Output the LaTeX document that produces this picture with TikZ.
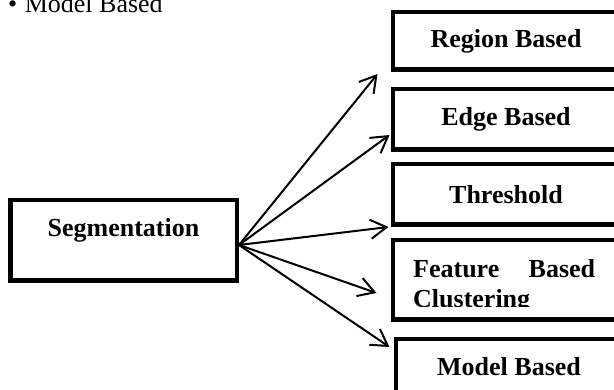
\documentclass[tikz,border=0pt]{standalone}
\usepackage{fontspec}
\setmainfont{Liberation Serif}
\usetikzlibrary{arrows.meta}

\begin{document}
\begin{tikzpicture}[
            x=1pt, y=-1pt,
            every node/.style={inner sep=0pt},
            box/.style={draw, line width=4.5pt, minimum width=226.5pt,
                font=\fontsize{26}{30}\selectfont\bfseries},
            arr/.style={line width=2pt, -{Straight Barb[length=16pt, width=19pt]}}
        ]
        \useasboundingbox (0,0) rectangle (614,390);
        \clip (0,0) rectangle (614,390);
        \node[anchor=base west, font=\fontsize{26}{30}\selectfont] (note) at (8,13) {\textbullet\hspace{7.5pt}Model Based};
        \node[box, minimum height=80.5pt] (seg) at (123.5,240.5) {\raisebox{3.5pt}[0pt][0pt]{Segmentation}};
        \node[box, minimum height=57.5pt] (reg) at (506,41) {Region Based};
        \node[box, minimum height=60.5pt] (edge) at (506,119.5) {Edge Based};
        \node[box, minimum height=60.5pt] (thr) at (506,194.5) {Threshold};
        \node[box, minimum height=79.5pt] (feat) at (506,280) {};
        \node[box, minimum height=54.5pt] (mod) at (509,366.5) {Model Based};
        % label of the fourth box is cut off at the bottom
        \begin{scope}
            \clip (400,250) rectangle (610,307);
            \node[anchor=north west, text width=182pt, align=left,
                font=\fontsize{26}{30}\selectfont\bfseries] (featlbl) at (413,259.5) {Feature\hfill Based\\Clustering};
        \end{scope}
        % Arrows out of the segmentation box
        \coordinate (hub) at ([shift={(0,4.5)}]seg.east);
        \foreach \tgt/\dx/\dy in {reg.south west/-13/2, edge.west/-1/15.5, thr.south west/-2/0, feat.west/-14/13, mod.north west/-4/10}
            \draw[arr] (hub) -- ([shift={(\dx,\dy)}]\tgt);
\end{tikzpicture}
\end{document}
